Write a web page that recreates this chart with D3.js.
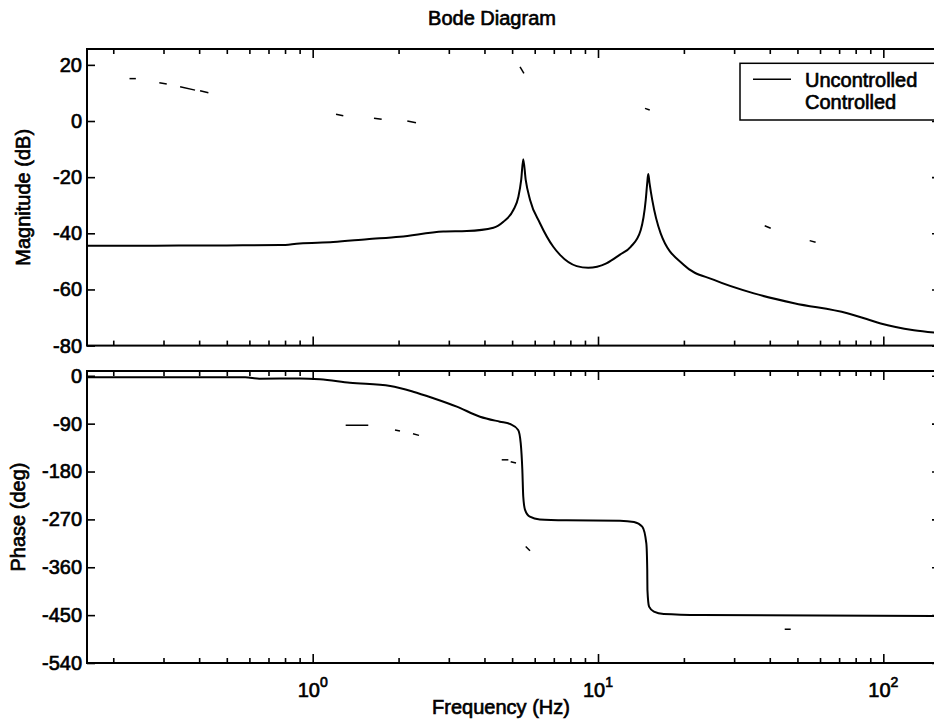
<!DOCTYPE html>
<html>
<head>
<meta charset="utf-8">
<script src="https://cdn.jsdelivr.net/npm/d3@7"></script>
<style>
  html, body { margin: 0; padding: 0; background: #fff; }
  svg { display: block; font-family: "Liberation Sans", Arial, Helvetica, sans-serif; }
  .lbl { font-size: 20px; fill: #000; stroke: #000; stroke-width: 0.65px; }
</style>
</head>
<body>
<svg id="chart" width="934" height="722"></svg>
<script>
// Frequency response, uncontrolled system (magnitude in dB, phase in degrees)
const magFreq = [0.1618, 0.28, 0.50, 0.77, 0.90, 1.18, 1.55, 2.02, 2.87, 3.47, 4.30, 4.66, 5.05, 5.26, 5.38, 5.47,
  5.58, 5.78, 6.26, 6.97, 7.36, 8.42, 9.24, 10.7, 11.94, 13.02, 14.12, 14.70, 14.88, 15.0, 15.15, 15.49, 16.58,
  20.0, 25.5, 35.2, 48.7, 74.8, 87.9, 97.9, 128, 158];
const magUncontrolled = [-44.4, -44.4, -44.3, -44.2, -43.6, -43.1, -42.1, -41.2, -39.4, -39.2, -38.0, -35.9, -31.7, -27.0, -21.0, -13.6,
  -21.0, -28.1, -36.4, -44.8, -47.7, -51.7, -52.3, -50.7, -47.6, -44.8, -38.8, -28.1, -22.0, -18.9, -22.0, -28.1, -40.0,
  -51.3, -56.6, -61.4, -64.9, -68.5, -70.6, -72.1, -74.5, -75.5];

const phaseFreq = [0.1618, 0.58, 0.65, 0.90, 1.06, 1.35, 1.87, 2.25, 2.65, 3.20, 3.86, 4.53, 4.92, 5.25, 5.36, 5.43,
  5.47, 5.55, 5.77, 6.25, 7.76, 11.94, 13.37, 14.29, 14.77, 14.88, 14.90, 15.1, 15.7, 17.0, 22.9, 158];
const phaseUncontrolled = [-2.8, -2.8, -5.5, -5.0, -6.6, -13.0, -19.2, -29.9, -42.3, -58.1, -76.9, -86.3, -90.6, -101.9, -126.9, -177,
  -227, -252, -265, -270, -271.6, -272.4, -274.8, -283.6, -315, -365, -402, -434, -443.4, -447.7, -449.6, -451.5];

// Controlled response: short dashes, each given by its two end points [freq, value]
const ctrlMagDashes = [
  [[0.228, 15.1], [0.240, 15.1]],
  [[0.290, 13.6], [0.308, 13.2]],
  [[0.343, 12.2], [0.387, 11.0]],
  [[0.403, 10.8], [0.431, 10.1]],
  [[1.207, 2.4], [1.280, 1.9]],
  [[1.640, 1.0], [1.745, 0.6]],
  [[2.146, 0.0], [2.302, -0.6]],
  [[5.33, 19.3], [5.50, 17.0]],
  [[14.61, 4.5], [15.18, 3.9]],
  [[38.4, -37.3], [40.3, -38.2]],
  [[55.2, -42.6], [57.9, -43.2]]
];
const ctrlPhaseDashes = [
  [[1.305, -93], [1.566, -93]],
  [[1.943, -102], [2.023, -104]],
  [[2.247, -109], [2.358, -112]],
  [[4.598, -158], [4.850, -158]],
  [[4.943, -161.5], [5.160, -164]],
  [[5.579, -321], [5.777, -329]],
  [[45.12, -476.5], [47.36, -476.5]]
];

const magTicks = [20, 0, -20, -40, -60, -80];
const phaseTicks = [0, -90, -180, -270, -360, -450, -540];
const decadeTicks = [1, 10, 100];
const decadeExponents = ["0", "1", "2"];
const minorTicks = [0.2, 0.3, 0.4, 0.5, 0.6, 0.7, 0.8, 0.9, 2, 3, 4, 5, 6, 7, 8, 9, 20, 30, 40, 50, 60, 70, 80, 90];
const legendLabels = ["Uncontrolled", "Controlled"];

const svg = d3.select("#chart");
const left = 87, right = 940;
const magBox = { top: 49, bottom: 345.6 };
const phBox = { top: 371, bottom: 663 };

const x = d3.scaleLog().domain([0.1618, 158]).range([left, right]);
const yMag = d3.scaleLinear().domain([-80, 25.65]).range([magBox.bottom, magBox.top]);
const yPh = d3.scaleLinear().domain([-540, 9]).range([phBox.bottom, phBox.top]);

function panel(box, y, yTicks, showXLabels) {
  const g = svg.append("g");
  const strip = sel => sel.call(s => s.select(".domain").remove());

  // inward ticks on all four sides
  g.append("g").attr("transform", `translate(${left},0)`)
    .call(d3.axisLeft(y).tickValues(yTicks).tickSize(-8).tickPadding(5).tickFormat(d => String(d)))
    .call(strip)
    .call(s => s.selectAll("text").attr("class", "lbl").attr("font-size", null).attr("font-family", null));
  g.append("g").attr("transform", `translate(${right},0)`)
    .call(d3.axisRight(y).tickValues(yTicks).tickSize(-8).tickFormat(""))
    .call(strip);

  [[box.bottom, d3.axisBottom], [box.top, d3.axisTop]].forEach(([yy, ax]) => {
    g.append("g").attr("transform", `translate(0,${yy})`)
      .call(ax(x).tickValues(decadeTicks).tickSize(-9).tickFormat(""))
      .call(strip);
    g.append("g").attr("transform", `translate(0,${yy})`)
      .call(ax(x).tickValues(minorTicks).tickSize(-5).tickFormat(""))
      .call(strip);
  });
  g.selectAll(".tick line").attr("stroke", "#000").attr("stroke-width", 1.6);

  g.append("rect")
    .attr("x", left).attr("y", box.top)
    .attr("width", right - left).attr("height", box.bottom - box.top)
    .attr("fill", "none").attr("stroke", "#000").attr("stroke-width", 2);

  if (showXLabels) {
    const t = g.append("g").selectAll("text").data(decadeTicks).join("text")
      .attr("class", "lbl")
      .attr("x", d => x(d)).attr("y", box.bottom + 34)
      .attr("text-anchor", "middle");
    t.append("tspan").text("10");
    t.append("tspan").attr("dy", -10).attr("font-size", 14).text((d, i) => decadeExponents[i]);
  }
  return g;
}

panel(magBox, yMag, magTicks, false);
panel(phBox, yPh, phaseTicks, true);

const plot = svg.append("g");
const magLine = d3.line().x(d => x(d[0])).y(d => yMag(d[1])).curve(d3.curveMonotoneX);
const phLine = d3.line().x(d => x(d[0])).y(d => yPh(d[1])).curve(d3.curveMonotoneX);

plot.append("path")
  .datum(magFreq.map((f, i) => [f, magUncontrolled[i]]))
  .attr("d", magLine).attr("fill", "none").attr("stroke", "#000").attr("stroke-width", 2);
plot.append("path")
  .datum(phaseFreq.map((f, i) => [f, phaseUncontrolled[i]]))
  .attr("d", phLine).attr("fill", "none").attr("stroke", "#000").attr("stroke-width", 2);

const dashLineMag = d3.line().x(d => x(d[0])).y(d => yMag(d[1]));
const dashLinePh = d3.line().x(d => x(d[0])).y(d => yPh(d[1]));
plot.selectAll(".cm").data(ctrlMagDashes).join("path").attr("class", "cm")
  .attr("d", dashLineMag).attr("fill", "none").attr("stroke", "#000").attr("stroke-width", 1.5);
plot.selectAll(".cp").data(ctrlPhaseDashes).join("path").attr("class", "cp")
  .attr("d", dashLinePh).attr("fill", "none").attr("stroke", "#000").attr("stroke-width", 1.5);

// titles
svg.append("text").attr("class", "lbl").attr("x", 492).attr("y", 25)
  .attr("text-anchor", "middle").text("Bode Diagram");
svg.append("text").attr("class", "lbl").attr("x", 501).attr("y", 714)
  .attr("text-anchor", "middle").text("Frequency (Hz)");
svg.append("text").attr("class", "lbl")
  .attr("transform", `translate(30,${(magBox.top + magBox.bottom) / 2}) rotate(-90)`)
  .attr("text-anchor", "middle").text("Magnitude (dB)");
svg.append("text").attr("class", "lbl")
  .attr("transform", `translate(25,${(phBox.top + phBox.bottom) / 2}) rotate(-90)`)
  .attr("text-anchor", "middle").text("Phase (deg)");

// legend
const lg = svg.append("g");
lg.append("rect").attr("x", 740).attr("y", 63.3).attr("width", 200).attr("height", 56.7)
  .attr("fill", "#fff").attr("stroke", "#000").attr("stroke-width", 1.5);
lg.append("line").attr("x1", 753).attr("x2", 791).attr("y1", 79.3).attr("y2", 79.3)
  .attr("stroke", "#000").attr("stroke-width", 1.5);
lg.selectAll(".lt").data(legendLabels).join("text").attr("class", "lbl lt")
  .attr("x", 805).attr("y", (d, i) => 87 + i * 22).text(d => d);
</script>
</body>
</html>
